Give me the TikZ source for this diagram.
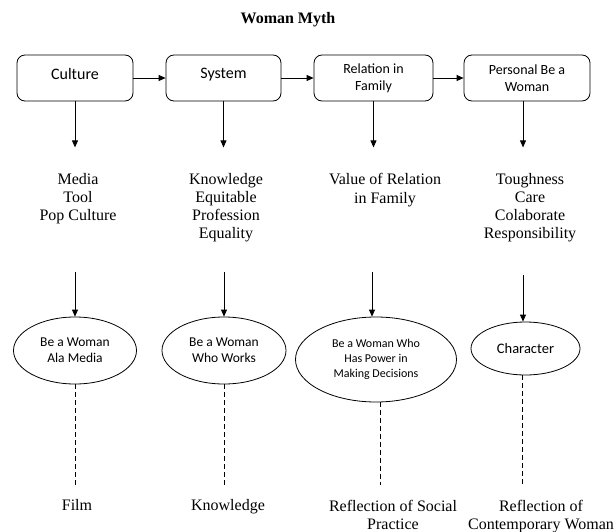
\documentclass[tikz,border=0pt]{standalone}
\usepackage{fontspec}
\setmainfont{Liberation Serif}
\newfontfamily\calfont{Carlito}
\usetikzlibrary{arrows.meta,positioning,shapes.geometric}

\begin{document}
\begin{tikzpicture}[
  x=1pt, y=-1pt, line width=0.8pt,
  font=\fontsize{16}{18}\selectfont,
  stage/.style={draw, rounded corners=8pt, minimum height=46pt, align=center, font=\calfont\fontsize{16}{16}\selectfont},
  small/.style={font=\calfont\fontsize{14}{17}\selectfont},
  oval/.style={draw, ellipse, inner sep=0pt, align=center, font=\calfont\fontsize{13.5}{16}\selectfont},
  items/.style={anchor=north, align=center},
  arr/.style={-{Triangle[length=7pt, width=6pt]}},
  link/.style={dash pattern=on 5pt off 3pt}
]
\useasboundingbox (0,0) rectangle (615,532);
\node[font=\bfseries\fontsize{16}{18}\selectfont] (title) at (288,20) {Woman Myth};

% top row
\node[stage, text depth=9pt, minimum width=116pt] (culture) at (75,78) {Culture};
\node[stage, text depth=9pt, minimum width=115pt] (system) at (223.5,78) {System};
\node[stage, small, minimum width=119pt] (family) at (373.5,78) {Relation in\\Family};
\node[stage, small, minimum width=126pt] (personal) at (527,78) {Personal Be a\\Woman};

\draw[arr] (culture) -- (system);
\draw[arr] (system) -- (family);
\draw[arr] (family) -- (personal);

\coordinate[below=46pt of culture.south] (t1);
\coordinate[below=46pt of system.south] (t2);
\coordinate[below=46pt of family.south] (t3);
\coordinate[below=46pt of personal.south, xshift=-4pt] (t4);
\foreach \t in {t1, t2, t3, t4}
  \draw[arr] (\t |- culture.south) -- (\t);

% lists
\node[items] (media) at (78,170) {Media\\Tool\\Pop Culture};
\node[items] (knowl) at (226,170) {Knowledge\\Equitable\\Profession\\Equality};
\node[items] (value) at (385,170) {Value of Relation\\in Family};
\node[items] (tough) at (530,170) {Toughness\\Care\\Colaborate\\Responsibility};

% ovals
\node[oval, minimum width=123pt, minimum height=67pt] (alamedia) at (75,350.5) {Be a Woman\\Ala Media};
\node[oval, minimum width=124pt, minimum height=67pt] (works) at (224,350.5) {Be a Woman\\Who Works};
\node[oval, minimum width=161pt, minimum height=85pt, font=\calfont\fontsize{12}{15}\selectfont] (power) at (376,359.5) {Be a Woman Who\\Has Power in\\Making Decisions};
\node[oval, minimum width=109pt, minimum height=53pt, font=\calfont\fontsize{14.5}{16}\selectfont] (character) at (525.5,348.5) {Character};

\coordinate (m1) at (75,272);
\coordinate (m2) at (224,272);
\coordinate (m3) at (372,272);
\coordinate (m4) at (523,275);
\draw[arr] (m1) -- (alamedia.north);
\draw[arr] (m2) -- (works.north);
\draw[arr] (m3) -- (m3 |- power.north);
\draw[arr] (m4) -- (m4 |- character.north);

% outcomes
\node[items] (film) at (77,496) {Film};
\node[items] (knowhow) at (228,496) {Knowledge};
\node[items] (social) at (393,496) {Reflection of Social\\Practice};
\node[items] (contemp) at (541,496) {Reflection of\\Contemporary Woman};

\coordinate (d1) at (75,485);
\coordinate (d2) at (224,485);
\coordinate (d3) at (380.5,485);
\coordinate (d4) at (522.5,485);
\draw[link] (alamedia.south) -- (d1);
\draw[link] (works.south) -- (d2);
\draw[link] (d3 |- power.south) -- (d3);
\draw[link] (d4 |- character.south) -- (d4);
\end{tikzpicture}
\end{document}
